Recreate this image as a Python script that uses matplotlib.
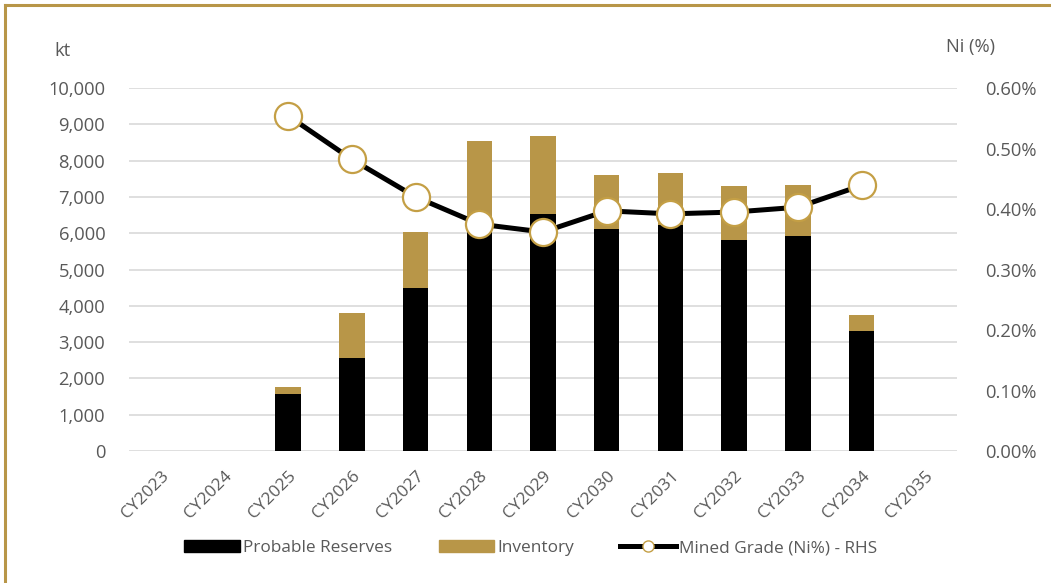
import matplotlib.pyplot as plt
import numpy as np
from matplotlib.lines import Line2D
from matplotlib.patches import Patch

years = ['CY2023', 'CY2024', 'CY2025', 'CY2026', 'CY2027', 'CY2028', 'CY2029',
         'CY2030', 'CY2031', 'CY2032', 'CY2033', 'CY2034', 'CY2035']
probable = [0, 0, 1570, 2560, 4480, 6300, 6520, 6110, 6220, 5820, 5920, 3300, 0]
inventory = [0, 0, 180, 1230, 1560, 2250, 2150, 1490, 1450, 1490, 1400, 440, 0]
grade = [np.nan, np.nan, 0.554, 0.482, 0.420, 0.375, 0.362, 0.397, 0.392,
         0.395, 0.403, 0.439, np.nan]

gold = '#B89648'
grey = '#595959'
fs = 13.2
plt.rcParams['font.family'] = ['Open Sans', 'DejaVu Sans']

fig = plt.figure(figsize=(10.51, 5.83), dpi=100)
ax = fig.add_axes([0.1227, 0.2264, 0.788, 0.6226])
x = np.arange(len(years))

ax.bar(x, probable, width=0.4, color='black', zorder=2)
ax.bar(x, inventory, width=0.4, bottom=probable, color=gold, zorder=2)
ax.set_ylim(0, 10000)
ax.set_xlim(-0.5, len(years) - 0.5)
ax.set_yticks(np.arange(0, 10001, 1000))
ax.set_yticklabels([f'{v:,}' for v in range(0, 10001, 1000)])
ax.grid(axis='y', color='#d9d9d9', linewidth=1.2, zorder=0)
ax.set_axisbelow(True)
ax.set_xticks(x)
ax.set_xticklabels(years, rotation=45, ha='right', va='top', rotation_mode='anchor')
for s in ax.spines.values():
    s.set_visible(False)
ax.tick_params(length=0, labelsize=fs, colors=grey)
ax.tick_params(axis='y', pad=17)
ax.tick_params(axis='x', pad=12, labelsize=12.4)

ax2 = ax.twinx()
ax2.plot(x, grade, color='black', linewidth=3.6, marker='o', markersize=19.5,
         markerfacecolor='white', markeredgecolor='#C49F45', markeredgewidth=1.6,
         zorder=3)
ax2.set_ylim(0, 0.6)
ax2.set_yticks(np.arange(0, 0.61, 0.1))
ax2.set_yticklabels([f'{v:.2f}%' for v in np.arange(0, 0.61, 0.1)])
for s in ax2.spines.values():
    s.set_visible(False)
ax2.tick_params(length=0, labelsize=fs, colors=grey, pad=20)

fig.text(0.059, 0.913, 'kt', fontsize=fs, color=grey, ha='center', va='center')
fig.text(0.923, 0.919, 'Ni (%)', fontsize=fs, color=grey, ha='center', va='center')

handles = [Patch(color='black'), Patch(color=gold),
           Line2D([], [], color='black', linewidth=3.6, marker='o', markersize=8,
                  markerfacecolor='white', markeredgecolor='#C49F45')]
fig.legend(handles, ['Probable Reserves', 'Inventory', 'Mined Grade (Ni%) - RHS'],
           loc='center', bbox_to_anchor=(0.505, 0.06), ncol=3, frameon=False,
           fontsize=12.4, labelcolor=grey, handlelength=3.2, handleheight=0.75,
           handletextpad=0.2, columnspacing=2.7)

fig.add_artist(Line2D([0.0048, 0.0048], [0, 0.9914], color=gold, linewidth=2.2,
                      transform=fig.transFigure))
fig.add_artist(Line2D([0.0048, 1], [0.9914, 0.9914], color=gold, linewidth=2.2,
                      transform=fig.transFigure))

fig.savefig('out.png', dpi=100)
